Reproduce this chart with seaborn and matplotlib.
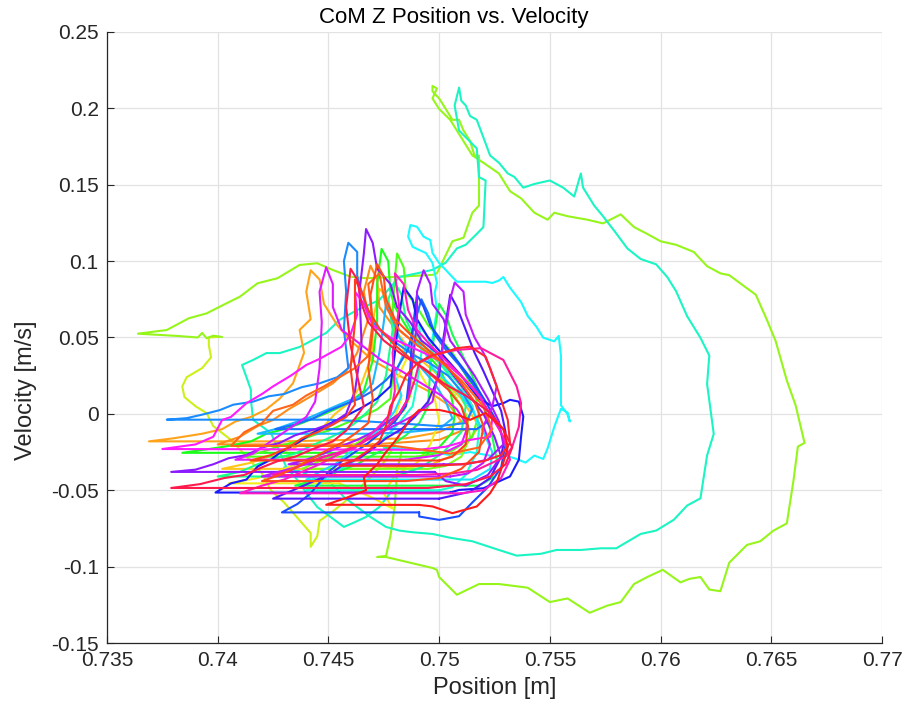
import matplotlib
matplotlib.use("Agg")
import matplotlib.pyplot as plt
import seaborn as sns
import pandas as pd

# ---------------------------------------------------------------
# Centre-of-mass Z phase trajectories: (position [m], velocity [m/s])
# ---------------------------------------------------------------
lime_left = [(0.7401, 0.0505), (0.7396, 0.0500), (0.7396, 0.0450), (0.7397, 0.0370), (0.7393, 0.0300),
             (0.7386, 0.0240), (0.7384, 0.0180), (0.7385, 0.0110), (0.7390, 0.0050), (0.7395, 0.0005),
             (0.7398, -0.0080), (0.7406, -0.0170), (0.7413, -0.0280), (0.7420, -0.0390), (0.7424, -0.0500),
             (0.7430, -0.0580), (0.7436, -0.0680), (0.7442, -0.0780), (0.7442, -0.0870), (0.7445, -0.0800),
             (0.7446, -0.0700), (0.7451, -0.0650), (0.7457, -0.0580), (0.7463, -0.0500), (0.7470, -0.0400),
             (0.7476, -0.0300), (0.7480, -0.0200)]

outer = [(0.7402, 0.0503), (0.7398, 0.0512), (0.7395, 0.0495), (0.7393, 0.0530), (0.7391, 0.0500),
         (0.7382, 0.0510), (0.7364, 0.0525),
         (0.7377, 0.0549), (0.7387, 0.0626), (0.7395, 0.0658), (0.7404, 0.0724), (0.7410, 0.0767),
         (0.7418, 0.0855), (0.7427, 0.0888), (0.7437, 0.0975), (0.7445, 0.0986), (0.7452, 0.0942),
         (0.7460, 0.0898), (0.7467, 0.0888), (0.7482, 0.0898), (0.7497, 0.0910),
         (0.7499, 0.0920), (0.7506, 0.1130), (0.7511, 0.1153), (0.7515, 0.1317), (0.7518, 0.1364),
         (0.7518, 0.1550), (0.7518, 0.1690), (0.7516, 0.1690), (0.7514, 0.1786), (0.7511, 0.1855),
         (0.7509, 0.1925), (0.7506, 0.1925), (0.7503, 0.1996), (0.7500, 0.2065), (0.7497, 0.2112),
         (0.7497, 0.2147),
         (0.7499, 0.2130), (0.7497, 0.2065), (0.7500, 0.1996), (0.7505, 0.1925), (0.7509, 0.1832),
         (0.7515, 0.1692), (0.7520, 0.1644), (0.7527, 0.1574), (0.7532, 0.1458), (0.7537, 0.1411),
         (0.7543, 0.1317), (0.7549, 0.1271), (0.7552, 0.1317), (0.7558, 0.1294), (0.7567, 0.1271),
         (0.7574, 0.1247), (0.7582, 0.1306), (0.7588, 0.1223), (0.7594, 0.1178), (0.7600, 0.1130),
         (0.7607, 0.1107), (0.7615, 0.1060), (0.7621, 0.0967), (0.7627, 0.0920), (0.7631, 0.0908),
         (0.7643, 0.0780), (0.7648, 0.0616), (0.7652, 0.0475), (0.7657, 0.0219), (0.7661, 0.0055),
         (0.7665, -0.0190), (0.7662, -0.0214), (0.7660, -0.0437), (0.7657, -0.0717), (0.7651, -0.0764),
         (0.7645, -0.0834), (0.7639, -0.0858), (0.7631, -0.0974), (0.7627, -0.1161), (0.7622, -0.1150),
         (0.7618, -0.1068), (0.7613, -0.1080), (0.7609, -0.1103), (0.7601, -0.1021), (0.7594, -0.1068),
         (0.7588, -0.1114), (0.7582, -0.1232), (0.7576, -0.1255), (0.7568, -0.1302), (0.7558, -0.1208),
         (0.7550, -0.1232), (0.7540, -0.1138), (0.7527, -0.1114), (0.7518, -0.1114), (0.7508, -0.1184),
         (0.7500, -0.1068), (0.7499, -0.1021), (0.7497, -0.1009), (0.7476, -0.0937), (0.7472, -0.0937),
         (0.7476, -0.0930), (0.7478, -0.0800), (0.7480, -0.0600), (0.7481, -0.0370), (0.7483, -0.0250)]

aqua = [(0.7479, -0.0497), (0.7473, -0.0610), (0.7467, -0.0675), (0.7461, -0.0715), (0.7457, -0.0740),
        (0.7451, -0.0675), (0.7445, -0.0610), (0.7440, -0.0518), (0.7436, -0.0433), (0.7431, -0.0348),
        (0.7427, -0.0217), (0.7424, -0.0125), (0.7416, -0.0039), (0.7415, 0.0092), (0.7415, 0.0157),
        (0.7413, 0.0240), (0.7411, 0.0320), (0.7416, 0.0353), (0.7422, 0.0398), (0.7428, 0.0398),
        (0.7437, 0.0438), (0.7449, 0.0530), (0.7455, 0.0615), (0.7463, 0.0680), (0.7473, 0.0745),
        (0.7482, 0.0896), (0.7490, 0.0920), (0.7497, 0.0943), (0.7503, 0.0990), (0.7508, 0.1083),
        (0.7512, 0.1107), (0.7517, 0.1178), (0.7520, 0.1223), (0.7521, 0.1528), (0.7518, 0.1550),
        (0.7517, 0.1738), (0.7509, 0.1855), (0.7507, 0.2019), (0.7509, 0.2136), (0.7510, 0.2050),
        (0.7512, 0.2019), (0.7514, 0.1950), (0.7517, 0.1925), (0.7520, 0.1809), (0.7523, 0.1692),
        (0.7527, 0.1644), (0.7531, 0.1574), (0.7534, 0.1551), (0.7538, 0.1481), (0.7543, 0.1505),
        (0.7550, 0.1528), (0.7556, 0.1481), (0.7561, 0.1423), (0.7564, 0.1574), (0.7565, 0.1481),
        (0.7570, 0.1364), (0.7574, 0.1294), (0.7579, 0.1200), (0.7585, 0.1083), (0.7591, 0.1014),
        (0.7598, 0.0979), (0.7603, 0.0896), (0.7607, 0.0803), (0.7612, 0.0639), (0.7618, 0.0498),
        (0.7622, 0.0382), (0.7621, 0.0196), (0.7624, -0.0131), (0.7621, -0.0272), (0.7618, -0.0553),
        (0.7612, -0.0600), (0.7606, -0.0693), (0.7598, -0.0764), (0.7591, -0.0786), (0.7580, -0.0880),
        (0.7573, -0.0880), (0.7564, -0.0891), (0.7553, -0.0891), (0.7546, -0.0916), (0.7535, -0.0928),
        (0.7527, -0.0891), (0.7515, -0.0834), (0.7505, -0.0811), (0.7497, -0.0786), (0.7488, -0.0775),
        (0.7482, -0.0764), (0.7476, -0.0740), (0.7469, -0.0675), (0.7463, -0.0610), (0.7457, -0.0544),
        (0.7451, -0.0452), (0.7445, -0.0433), (0.7438, -0.0380), (0.7430, -0.0350)]

cyan = [(0.7496, 0.0400), (0.7499, 0.0680), (0.7498, 0.0791), (0.7499, 0.0857), (0.7497, 0.0988),
        (0.7494, 0.1053), (0.7491, 0.1073), (0.7488, 0.1094), (0.7486, 0.1160), (0.7487, 0.1236),
        (0.7490, 0.1225), (0.7493, 0.1160), (0.7496, 0.1138), (0.7497, 0.1053), (0.7500, 0.0988),
        (0.7503, 0.0942), (0.7508, 0.0865), (0.7515, 0.0865), (0.7521, 0.0865), (0.7524, 0.0857),
        (0.7527, 0.0873), (0.7529, 0.0896), (0.7532, 0.0826), (0.7537, 0.0732), (0.7540, 0.0641),
        (0.7544, 0.0569), (0.7547, 0.0499), (0.7552, 0.0475), (0.7554, 0.0510), (0.7555, 0.0382),
        (0.7555, 0.0056), (0.7558, -0.0003), (0.7559, -0.0050), (0.7558, 0.0009), (0.7555, 0.0033),
        (0.7552, -0.0085), (0.7549, -0.0225), (0.7547, -0.0295), (0.7543, -0.0273), (0.7539, -0.0319),
        (0.7535, -0.0295), (0.7530, -0.0273), (0.7527, -0.0295), (0.7523, -0.0273), (0.7514, -0.0250),
        (0.7505, -0.0270), (0.7491, -0.0235), (0.7475, -0.0220)]

orange = [(0.7430, -0.0180), (0.7369, -0.0180), (0.7380, -0.0160), (0.7393, -0.0130), (0.7402, -0.0100),
          (0.7408, -0.0050), (0.7415, -0.0020), (0.7422, 0.0030), (0.7428, 0.0100), (0.7434, 0.0200),
          (0.7439, 0.0400), (0.7437, 0.0550), (0.7442, 0.0620), (0.7440, 0.0800), (0.7442, 0.0940),
          (0.7446, 0.0880), (0.7448, 0.0720), (0.7454, 0.0580), (0.7460, 0.0480), (0.7470, 0.0350),
          (0.7482, 0.0250), (0.7495, 0.0150), (0.7505, 0.0050), (0.7510, -0.0050), (0.7500, -0.0120),
          (0.7485, -0.0160), (0.7460, -0.0170), (0.7430, -0.0180)]

orange_b = [(0.7470, -0.0200), (0.7400, -0.0200), (0.7410, -0.0150), (0.7418, -0.0080), (0.7425, -0.0040),
            (0.7432, 0.0030), (0.7438, 0.0080), (0.7445, 0.0140), (0.7452, 0.0200), (0.7458, 0.0280),
            (0.7463, 0.0400), (0.7468, 0.0620), (0.7466, 0.0800), (0.7469, 0.0970), (0.7472, 0.0880),
            (0.7473, 0.0700), (0.7479, 0.0580), (0.7486, 0.0500), (0.7495, 0.0400), (0.7503, 0.0300),
            (0.7510, 0.0180), (0.7515, 0.0050), (0.7512, -0.0100), (0.7500, -0.0170), (0.7470, -0.0200)]

amber = [(0.7470, -0.0360), (0.7402, -0.0360), (0.7415, -0.0320), (0.7425, -0.0270), (0.7435, -0.0220),
         (0.7440, -0.0140), (0.7448, -0.0080), (0.7453, 0.0000), (0.7460, 0.0080), (0.7465, 0.0200),
         (0.7470, 0.0400), (0.7470, 0.0600), (0.7473, 0.0820), (0.7477, 0.0750), (0.7480, 0.0550),
         (0.7488, 0.0400), (0.7500, 0.0250), (0.7510, 0.0100), (0.7518, -0.0080), (0.7510, -0.0250),
         (0.7495, -0.0340), (0.7470, -0.0360)]

yellow = [(0.7455, -0.0455), (0.7405, -0.0455), (0.7418, -0.0420), (0.7427, -0.0380), (0.7435, -0.0330),
          (0.7446, -0.0300), (0.7455, -0.0250), (0.7465, -0.0180), (0.7473, -0.0100), (0.7480, -0.0020),
          (0.7483, 0.0100), (0.7480, 0.0200), (0.7485, 0.0350), (0.7483, 0.0480), (0.7488, 0.0400),
          (0.7492, 0.0250), (0.7498, 0.0100), (0.7500, -0.0050), (0.7496, -0.0200), (0.7490, -0.0320),
          (0.7480, -0.0400), (0.7475, -0.0520), (0.7479, -0.0620), (0.7470, -0.0550), (0.7455, -0.0455)]

chartreuse = [(0.7495, -0.0360), (0.7438, -0.0360), (0.7446, -0.0310), (0.7453, -0.0270), (0.7460, -0.0220),
              (0.7466, -0.0160), (0.7472, -0.0100), (0.7478, -0.0040), (0.7484, 0.0020), (0.7487, 0.0120),
              (0.7488, 0.0350), (0.7490, 0.0520), (0.7493, 0.0450), (0.7496, 0.0320), (0.7501, 0.0220),
              (0.7507, 0.0120), (0.7512, 0.0000), (0.7514, -0.0150), (0.7510, -0.0280), (0.7503, -0.0340),
              (0.7495, -0.0360)]

green = [(0.7495, -0.0255), (0.7384, -0.0255), (0.7396, -0.0230), (0.7405, -0.0210), (0.7415, -0.0180),
         (0.7422, -0.0130), (0.7430, -0.0100), (0.7438, -0.0060), (0.7445, -0.0020), (0.7453, 0.0030),
         (0.7460, 0.0080), (0.7466, 0.0150), (0.7470, 0.0350), (0.7472, 0.0600), (0.7472, 0.0850),
         (0.7474, 0.1080), (0.7477, 0.1000), (0.7478, 0.0800), (0.7480, 0.0700), (0.7484, 0.0600),
         (0.7489, 0.0480), (0.7494, 0.0400), (0.7500, 0.0300), (0.7505, 0.0150), (0.7507, 0.0000),
         (0.7506, -0.0120), (0.7500, -0.0220), (0.7495, -0.0255)]

green_b = [(0.7490, -0.0280), (0.7410, -0.0280), (0.7420, -0.0250), (0.7428, -0.0210), (0.7436, -0.0180),
           (0.7443, -0.0140), (0.7450, -0.0110), (0.7458, -0.0060), (0.7465, -0.0020), (0.7472, 0.0030),
           (0.7478, 0.0100), (0.7480, 0.0400), (0.7479, 0.0700), (0.7481, 0.1050), (0.7484, 0.0960),
           (0.7485, 0.0800), (0.7490, 0.0700), (0.7495, 0.0580), (0.7500, 0.0500), (0.7506, 0.0400),
           (0.7511, 0.0280), (0.7516, 0.0150), (0.7518, 0.0000), (0.7515, -0.0150), (0.7506, -0.0240),
           (0.7490, -0.0280)]

green_c = [(0.7518, -0.0470), (0.7435, -0.0470), (0.7445, -0.0430), (0.7454, -0.0380), (0.7463, -0.0330),
           (0.7470, -0.0270), (0.7478, -0.0210), (0.7485, -0.0140), (0.7491, -0.0060), (0.7495, 0.0050),
           (0.7496, 0.0300), (0.7498, 0.0550), (0.7500, 0.0720), (0.7503, 0.0650), (0.7506, 0.0520),
           (0.7510, 0.0400), (0.7514, 0.0280), (0.7518, 0.0150), (0.7521, 0.0000), (0.7524, -0.0150),
           (0.7526, -0.0300), (0.7524, -0.0420), (0.7518, -0.0470)]

spring = [(0.7480, -0.0410), (0.7400, -0.0410), (0.7410, -0.0380), (0.7418, -0.0330), (0.7426, -0.0290),
          (0.7435, -0.0260), (0.7442, -0.0210), (0.7450, -0.0160), (0.7457, -0.0110), (0.7463, -0.0050),
          (0.7468, 0.0020), (0.7472, 0.0080), (0.7476, 0.0250), (0.7479, 0.0550), (0.7477, 0.0750),
          (0.7480, 0.0860), (0.7483, 0.0780), (0.7485, 0.0620), (0.7489, 0.0500), (0.7495, 0.0420),
          (0.7502, 0.0300), (0.7508, 0.0180), (0.7512, 0.0050), (0.7510, -0.0120), (0.7502, -0.0250),
          (0.7492, -0.0350), (0.7480, -0.0410)]

teal = [(0.7500, -0.0500), (0.7440, -0.0500), (0.7446, -0.0460), (0.7450, -0.0400), (0.7458, -0.0340),
        (0.7465, -0.0280), (0.7472, -0.0200), (0.7478, -0.0120), (0.7483, -0.0040), (0.7488, 0.0050),
        (0.7490, 0.0200), (0.7492, 0.0400), (0.7491, 0.0580), (0.7495, 0.0500), (0.7498, 0.0380),
        (0.7504, 0.0280), (0.7510, 0.0180), (0.7515, 0.0050), (0.7518, -0.0100), (0.7517, -0.0250),
        (0.7512, -0.0400), (0.7506, -0.0480), (0.7500, -0.0500)]

sky = [(0.7470, -0.0130), (0.7418, -0.0130), (0.7426, -0.0100), (0.7434, -0.0060), (0.7442, -0.0020),
       (0.7450, 0.0030), (0.7458, 0.0080), (0.7465, 0.0120), (0.7470, 0.0200), (0.7473, 0.0400),
       (0.7475, 0.0600), (0.7476, 0.0720), (0.7479, 0.0620), (0.7482, 0.0500), (0.7487, 0.0400),
       (0.7492, 0.0300), (0.7498, 0.0200), (0.7503, 0.0080), (0.7506, -0.0030), (0.7500, -0.0100),
       (0.7485, -0.0120), (0.7470, -0.0130)]

cyan_b = [(0.7515, -0.0430), (0.7440, -0.0430), (0.7446, -0.0380), (0.7453, -0.0330), (0.7458, -0.0270),
          (0.7464, -0.0200), (0.7470, -0.0140), (0.7476, -0.0060), (0.7480, 0.0020), (0.7483, 0.0120),
          (0.7480, 0.0250), (0.7484, 0.0400), (0.7488, 0.0500), (0.7493, 0.0420), (0.7497, 0.0300),
          (0.7503, 0.0220), (0.7510, 0.0120), (0.7516, 0.0000), (0.7520, -0.0120), (0.7524, -0.0250),
          (0.7523, -0.0360), (0.7515, -0.0430)]

azure = [(0.7450, -0.0038), (0.7377, -0.0038), (0.7386, -0.0028), (0.7393, -0.0005), (0.7401, 0.0025),
         (0.7407, 0.0060), (0.7416, 0.0080), (0.7423, 0.0115), (0.7430, 0.0130), (0.7438, 0.0175),
         (0.7446, 0.0200), (0.7454, 0.0240), (0.7459, 0.0300), (0.7457, 0.0550), (0.7458, 0.0800),
         (0.7457, 0.1000), (0.7459, 0.1120), (0.7463, 0.1060), (0.7463, 0.0900), (0.7466, 0.0750),
         (0.7469, 0.0620), (0.7475, 0.0520), (0.7482, 0.0450), (0.7489, 0.0380), (0.7496, 0.0330),
         (0.7504, 0.0250), (0.7510, 0.0150), (0.7515, 0.0030), (0.7512, -0.0060), (0.7500, -0.0080),
         (0.7485, -0.0065), (0.7468, -0.0050), (0.7450, -0.0038)]

azure_b = [(0.7508, -0.0100), (0.7426, -0.0100), (0.7435, -0.0070), (0.7443, -0.0030), (0.7450, 0.0020),
           (0.7457, 0.0060), (0.7464, 0.0100), (0.7470, 0.0150), (0.7476, 0.0220), (0.7481, 0.0300),
           (0.7486, 0.0420), (0.7489, 0.0600), (0.7492, 0.0750), (0.7495, 0.0660), (0.7498, 0.0520),
           (0.7503, 0.0420), (0.7509, 0.0320), (0.7515, 0.0200), (0.7520, 0.0080), (0.7522, -0.0050),
           (0.7517, -0.0100), (0.7508, -0.0100)]

blue_b = [(0.7491, -0.0645), (0.7429, -0.0645), (0.7436, -0.0590), (0.7442, -0.0520), (0.7446, -0.0450),
          (0.7450, -0.0380), (0.7456, -0.0310), (0.7462, -0.0250), (0.7468, -0.0190), (0.7474, -0.0120),
          (0.7480, -0.0050), (0.7485, 0.0050), (0.7487, 0.0300), (0.7488, 0.0550), (0.7490, 0.0780),
          (0.7493, 0.0700), (0.7496, 0.0580), (0.7502, 0.0460), (0.7508, 0.0350), (0.7515, 0.0220),
          (0.7521, 0.0080), (0.7526, -0.0050), (0.7530, -0.0200), (0.7528, -0.0350), (0.7522, -0.0480),
          (0.7515, -0.0580), (0.7509, -0.0670), (0.7500, -0.0694), (0.7491, -0.0672), (0.7491, -0.0645)]

blue = [(0.7505, -0.0515), (0.7399, -0.0515), (0.7406, -0.0455), (0.7413, -0.0430), (0.7418, -0.0345),
        (0.7424, -0.0300), (0.7428, -0.0256), (0.7436, -0.0190), (0.7443, -0.0125), (0.7451, -0.0060),
        (0.7457, -0.0020), (0.7465, 0.0040), (0.7472, 0.0100), (0.7478, 0.0180), (0.7480, 0.0400),
        (0.7482, 0.0650), (0.7484, 0.0830), (0.7488, 0.0750), (0.7490, 0.0620), (0.7495, 0.0500),
        (0.7502, 0.0380), (0.7510, 0.0250), (0.7518, 0.0100), (0.7524, 0.0050), (0.7529, 0.0070),
        (0.7532, 0.0092), (0.7536, 0.0080), (0.7538, -0.0017), (0.7537, -0.0150), (0.7536, -0.0300),
        (0.7532, -0.0410), (0.7520, -0.0487), (0.7509, -0.0498), (0.7505, -0.0515)]

indigo = [(0.7500, -0.0555), (0.7425, -0.0555), (0.7434, -0.0500), (0.7442, -0.0450), (0.7450, -0.0400),
          (0.7456, -0.0340), (0.7464, -0.0290), (0.7470, -0.0230), (0.7476, -0.0160), (0.7483, -0.0100),
          (0.7489, -0.0020), (0.7495, 0.0080), (0.7500, 0.0250), (0.7502, 0.0500), (0.7505, 0.0780),
          (0.7508, 0.0700), (0.7512, 0.0550), (0.7516, 0.0400), (0.7520, 0.0280), (0.7524, 0.0150),
          (0.7528, 0.0020), (0.7530, -0.0120), (0.7528, -0.0280), (0.7523, -0.0420), (0.7514, -0.0510),
          (0.7500, -0.0555)]

violet = [(0.7498, -0.0380), (0.7379, -0.0380), (0.7390, -0.0365), (0.7398, -0.0330), (0.7405, -0.0290),
          (0.7413, -0.0270), (0.7420, -0.0220), (0.7428, -0.0190), (0.7435, -0.0140), (0.7444, -0.0100),
          (0.7452, -0.0060), (0.7458, 0.0000), (0.7462, 0.0150), (0.7465, 0.0450), (0.7464, 0.0800),
          (0.7466, 0.1050), (0.7467, 0.1210), (0.7470, 0.1120), (0.7472, 0.0950), (0.7478, 0.0850),
          (0.7481, 0.0700), (0.7487, 0.0600), (0.7492, 0.0480), (0.7499, 0.0400), (0.7505, 0.0280),
          (0.7512, 0.0150), (0.7520, 0.0000), (0.7525, -0.0150), (0.7528, -0.0280), (0.7522, -0.0400),
          (0.7512, -0.0470), (0.7503, -0.0440), (0.7498, -0.0380)]

violet_b = [(0.7502, -0.0330), (0.7432, -0.0330), (0.7440, -0.0300), (0.7448, -0.0260), (0.7456, -0.0210),
            (0.7463, -0.0170), (0.7470, -0.0120), (0.7476, -0.0060), (0.7482, 0.0000), (0.7486, 0.0100),
            (0.7488, 0.0350), (0.7490, 0.0600), (0.7490, 0.0800), (0.7493, 0.0940), (0.7496, 0.0850),
            (0.7497, 0.0720), (0.7502, 0.0620), (0.7505, 0.0480), (0.7510, 0.0380), (0.7516, 0.0250),
            (0.7522, 0.0100), (0.7527, -0.0050), (0.7529, -0.0200), (0.7522, -0.0300), (0.7512, -0.0330),
            (0.7502, -0.0330)]

purple = [(0.7505, -0.0410), (0.7420, -0.0410), (0.7430, -0.0370), (0.7440, -0.0330), (0.7448, -0.0280),
          (0.7458, -0.0240), (0.7466, -0.0180), (0.7474, -0.0120), (0.7482, -0.0060), (0.7490, 0.0000),
          (0.7497, 0.0080), (0.7500, 0.0300), (0.7503, 0.0550), (0.7505, 0.0750), (0.7507, 0.0860),
          (0.7511, 0.0800), (0.7512, 0.0650), (0.7516, 0.0500), (0.7520, 0.0400), (0.7523, 0.0300),
          (0.7526, 0.0180), (0.7524, 0.0050), (0.7520, -0.0080), (0.7523, -0.0200), (0.7520, -0.0320),
          (0.7513, -0.0390), (0.7505, -0.0410)]

magenta_b = [(0.7485, -0.0300), (0.7408, -0.0300), (0.7416, -0.0260), (0.7422, -0.0200), (0.7428, -0.0140),
             (0.7434, -0.0080), (0.7440, -0.0020), (0.7444, 0.0080), (0.7446, 0.0300), (0.7447, 0.0600),
             (0.7446, 0.0800), (0.7449, 0.0960), (0.7452, 0.0850), (0.7452, 0.0700), (0.7456, 0.0550),
             (0.7465, 0.0450), (0.7474, 0.0350), (0.7483, 0.0280), (0.7492, 0.0200), (0.7501, 0.0120),
             (0.7508, 0.0030), (0.7513, -0.0080), (0.7510, -0.0200), (0.7500, -0.0270), (0.7485, -0.0300)]

magenta = [(0.7491, -0.0235), (0.7375, -0.0230), (0.7390, -0.0200), (0.7398, -0.0150), (0.7402, -0.0040),
           (0.7406, -0.0020), (0.7413, 0.0070), (0.7420, 0.0130), (0.7425, 0.0180), (0.7433, 0.0250),
           (0.7440, 0.0320), (0.7446, 0.0360), (0.7451, 0.0400), (0.7456, 0.0440), (0.7460, 0.0520),
           (0.7463, 0.0650), (0.7462, 0.0800), (0.7466, 0.0720), (0.7470, 0.0580), (0.7478, 0.0500),
           (0.7487, 0.0440), (0.7496, 0.0380), (0.7504, 0.0320), (0.7512, 0.0220), (0.7519, 0.0100),
           (0.7524, -0.0030), (0.7523, -0.0150), (0.7514, -0.0170), (0.7503, -0.0215), (0.7491, -0.0235)]

pink = [(0.7510, -0.0520), (0.7410, -0.0520), (0.7420, -0.0470), (0.7430, -0.0430), (0.7438, -0.0380),
        (0.7446, -0.0330), (0.7454, -0.0270), (0.7462, -0.0220), (0.7468, -0.0150), (0.7473, -0.0080),
        (0.7478, 0.0000), (0.7480, 0.0150), (0.7479, 0.0400), (0.7482, 0.0700), (0.7480, 0.0920),
        (0.7484, 0.0850), (0.7486, 0.0680), (0.7490, 0.0550), (0.7496, 0.0450), (0.7503, 0.0350),
        (0.7510, 0.0250), (0.7517, 0.0140), (0.7523, 0.0000), (0.7529, -0.0150), (0.7532, -0.0300),
        (0.7528, -0.0420), (0.7520, -0.0500), (0.7510, -0.0520)]

rose = [(0.7490, -0.0400), (0.7425, -0.0400), (0.7433, -0.0370), (0.7440, -0.0320), (0.7448, -0.0280),
        (0.7456, -0.0250), (0.7464, -0.0200), (0.7471, -0.0140), (0.7477, -0.0080), (0.7482, 0.0000),
        (0.7486, 0.0100), (0.7489, 0.0220), (0.7491, 0.0335), (0.7500, 0.0400), (0.7509, 0.0420),
        (0.7519, 0.0430), (0.7529, 0.0353), (0.7535, 0.0180), (0.7537, 0.0070), (0.7536, -0.0085),
        (0.7533, -0.0216), (0.7530, -0.0280), (0.7524, -0.0320), (0.7517, -0.0367), (0.7506, -0.0390),
        (0.7490, -0.0400)]

orange_red = [(0.7480, -0.0210), (0.7406, -0.0210), (0.7412, -0.0120), (0.7420, -0.0060), (0.7425, 0.0020),
              (0.7434, 0.0060), (0.7440, 0.0120), (0.7448, 0.0180), (0.7455, 0.0240), (0.7462, 0.0300),
              (0.7468, 0.0380), (0.7470, 0.0600), (0.7468, 0.0850), (0.7473, 0.0920), (0.7476, 0.0700),
              (0.7482, 0.0550), (0.7490, 0.0450), (0.7500, 0.0350), (0.7510, 0.0220), (0.7520, 0.0050),
              (0.7524, -0.0100), (0.7518, -0.0220), (0.7505, -0.0260), (0.7480, -0.0210)]

rust = [(0.7485, -0.0440), (0.7420, -0.0440), (0.7428, -0.0400), (0.7435, -0.0350), (0.7442, -0.0300),
        (0.7449, -0.0240), (0.7456, -0.0190), (0.7462, -0.0130), (0.7468, -0.0060), (0.7470, 0.0100),
        (0.7468, 0.0300), (0.7470, 0.0550), (0.7469, 0.0780), (0.7472, 0.0980), (0.7475, 0.0900),
        (0.7476, 0.0750), (0.7480, 0.0620), (0.7487, 0.0520), (0.7495, 0.0420), (0.7503, 0.0320),
        (0.7510, 0.0200), (0.7516, 0.0080), (0.7520, -0.0080), (0.7518, -0.0250), (0.7510, -0.0360),
        (0.7500, -0.0420), (0.7485, -0.0440)]

red_orange = [(0.7500, -0.0305), (0.7415, -0.0305), (0.7424, -0.0270), (0.7432, -0.0220), (0.7438, -0.0160),
              (0.7445, -0.0120), (0.7452, -0.0070), (0.7458, -0.0020), (0.7462, 0.0060), (0.7460, 0.0300),
              (0.7462, 0.0600), (0.7462, 0.0880), (0.7465, 0.0800), (0.7468, 0.0680), (0.7473, 0.0560),
              (0.7480, 0.0450), (0.7488, 0.0350), (0.7496, 0.0260), (0.7504, 0.0160), (0.7510, 0.0050),
              (0.7513, -0.0080), (0.7512, -0.0200), (0.7506, -0.0280), (0.7500, -0.0305)]

crimson = [(0.7495, -0.0485), (0.7379, -0.0485), (0.7392, -0.0460), (0.7403, -0.0420), (0.7412, -0.0400),
           (0.7420, -0.0350), (0.7427, -0.0310), (0.7435, -0.0280), (0.7443, -0.0230), (0.7452, -0.0180),
           (0.7458, -0.0110), (0.7462, -0.0030), (0.7466, 0.0050), (0.7463, 0.0250), (0.7460, 0.0450),
           (0.7458, 0.0700), (0.7460, 0.0950), (0.7463, 0.0880), (0.7465, 0.0720), (0.7468, 0.0600),
           (0.7475, 0.0480), (0.7484, 0.0380), (0.7493, 0.0300), (0.7502, 0.0200), (0.7512, 0.0120),
           (0.7522, 0.0020), (0.7529, -0.0100), (0.7533, -0.0220), (0.7530, -0.0330), (0.7523, -0.0410),
           (0.7512, -0.0460), (0.7495, -0.0485)]

scarlet = [(0.7498, -0.0340), (0.7455, -0.0340), (0.7462, -0.0300), (0.7468, -0.0240), (0.7473, -0.0180),
           (0.7476, -0.0080), (0.7478, 0.0050), (0.7482, 0.0150), (0.7485, 0.0250), (0.7490, 0.0330),
           (0.7496, 0.0380), (0.7502, 0.0400), (0.7508, 0.0430), (0.7514, 0.0440), (0.7521, 0.0375),
           (0.7526, 0.0180), (0.7531, -0.0040), (0.7532, -0.0190), (0.7528, -0.0270), (0.7520, -0.0310),
           (0.7510, -0.0330), (0.7498, -0.0340)]

red = [(0.7491, -0.0596), (0.7449, -0.0595), (0.7458, -0.0550), (0.7467, -0.0500), (0.7466, -0.0415),
       (0.7472, -0.0330), (0.7476, -0.0250), (0.7480, -0.0180), (0.7484, -0.0100), (0.7487, -0.0030),
       (0.7491, 0.0026), (0.7500, 0.0026), (0.7506, 0.0007), (0.7514, -0.0039), (0.7521, 0.0006),
       (0.7529, -0.0100), (0.7531, -0.0215), (0.7529, -0.0320), (0.7526, -0.0450), (0.7523, -0.0520),
       (0.7517, -0.0606), (0.7506, -0.0650), (0.7497, -0.0606), (0.7491, -0.0596)]

# drawing order (first drawn sits underneath) and line colours
run_names = ["lime_left", "outer", "aqua", "cyan", "orange", "orange_b", "amber", "yellow",
             "chartreuse", "green", "green_b", "green_c", "spring", "teal", "sky", "cyan_b",
             "azure", "azure_b", "blue_b", "blue", "indigo", "violet", "violet_b", "purple",
             "magenta_b", "magenta", "pink", "rose", "orange_red", "rust", "red_orange",
             "crimson", "scarlet", "red"]
run_points = [lime_left, outer, aqua, cyan, orange, orange_b, amber, yellow,
              chartreuse, green, green_b, green_c, spring, teal, sky, cyan_b,
              azure, azure_b, blue_b, blue, indigo, violet, violet_b, purple,
              magenta_b, magenta, pink, rose, orange_red, rust, red_orange,
              crimson, scarlet, red]
run_colors = ["#cdf01a", "#96f51a", "#1af5c3", "#1afaff", "#ffa31a", "#ff8c1a", "#ffc61a", "#f5eb1a",
              "#80ff1a", "#1aff1a", "#4dff1a", "#1aff4d", "#1aff8c", "#1affd0", "#1ab8ff", "#1ae0ff",
              "#1a8cff", "#1a6bff", "#1a4dff", "#1a1aff", "#501aff", "#8c1aff", "#a61aff", "#c01aff",
              "#e01aff", "#ff1aff", "#ff1ac4", "#ff1a9e", "#ff661a", "#ff4d1a", "#ff3f1a", "#ff1a4d",
              "#ff2630", "#ff1a1a"]

rows = []
for name, pts in zip(run_names, run_points):
    for step, (p, v) in enumerate(pts):
        rows.append((name, step, p, v))
df = pd.DataFrame(rows, columns=["run", "step", "pos", "vel"])

x_ticks = [0.735, 0.74, 0.745, 0.75, 0.755, 0.76, 0.765, 0.77]
x_labels = ["0.735", "0.74", "0.745", "0.75", "0.755", "0.76", "0.765", "0.77"]
y_ticks = [-0.15, -0.1, -0.05, 0.0, 0.05, 0.1, 0.15, 0.2, 0.25]
y_labels = ["-0.15", "-0.1", "-0.05", "0", "0.05", "0.1", "0.15", "0.2", "0.25"]

sns.set_theme(style="whitegrid")
plt.rcParams["font.family"] = ["Liberation Sans", "DejaVu Sans"]
plt.rcParams["axes.unicode_minus"] = False

fig = plt.figure(figsize=(9.08, 7.19), dpi=100)
ax = fig.add_axes([0.1178, 0.1057, 0.8536, 0.8498])

sns.lineplot(data=df, x="pos", y="vel", hue="run", hue_order=run_names,
             palette=dict(zip(run_names, run_colors)), units="run", estimator=None,
             sort=False, linewidth=1.5, legend=False, ax=ax)

ax.set_xlim(0.735, 0.77)
ax.set_ylim(-0.15, 0.25)
ax.set_xticks(x_ticks)
ax.set_xticklabels(x_labels)
ax.set_yticks(y_ticks)
ax.set_yticklabels(y_labels)

ax.set_facecolor("white")
ax.grid(True, color="#e2e2e2", linewidth=0.9)
for side in ("top", "right"):
    ax.spines[side].set_visible(False)
for side in ("left", "bottom"):
    ax.spines[side].set_visible(True)
    ax.spines[side].set_color("#262626")
    ax.spines[side].set_linewidth(0.9)

ax.tick_params(axis="both", which="major", direction="in", length=5, width=0.8,
               color="#262626", labelsize=15, labelcolor="#262626", pad=6,
               bottom=True, left=True, top=False, right=False)

ax.set_xlabel("Position [m]", fontsize=17, color="#262626")
ax.xaxis.set_label_coords(0.5, -0.056)
ax.set_ylabel("Velocity [m/s]", fontsize=17, color="#262626")
ax.yaxis.set_label_coords(-0.090, 0.414)
fig.text(0.5, 0.976, "CoM Z Position vs. Velocity", fontsize=16, color="black",
         ha="center", va="center")

fig.savefig("out.png", dpi=100, facecolor="white")
